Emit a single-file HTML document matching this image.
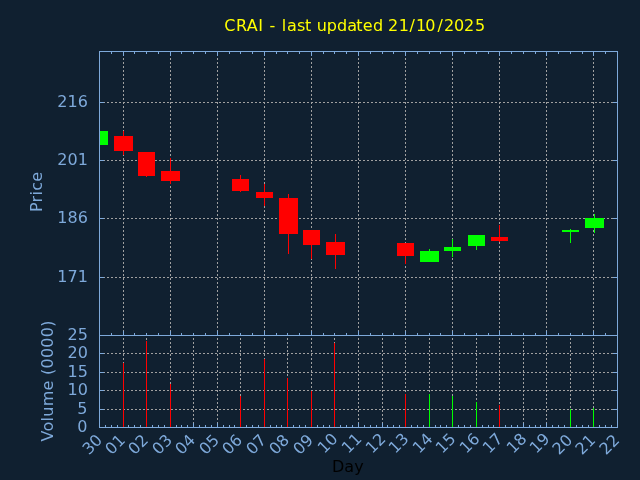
<!DOCTYPE html>
<html lang="en">
<head>
<meta charset="utf-8">
<title>CRAI - last updated 21/10/2025</title>
<style>
html,body{margin:0;padding:0;background:#102030;overflow:hidden}
svg{display:block;will-change:transform}
</style>
</head>
<body>
<svg width="640" height="480" viewBox="0 0 640 480">
<rect width="640" height="480" fill="#102030"/>
<g shape-rendering="crispEdges">
<line x1="123.5" y1="54" x2="123.5" y2="335" stroke="#a0a0a0" stroke-dasharray="2 2"/>
<line x1="170.5" y1="54" x2="170.5" y2="335" stroke="#a0a0a0" stroke-dasharray="2 2"/>
<line x1="217.5" y1="54" x2="217.5" y2="335" stroke="#a0a0a0" stroke-dasharray="2 2"/>
<line x1="264.5" y1="54" x2="264.5" y2="335" stroke="#a0a0a0" stroke-dasharray="2 2"/>
<line x1="311.5" y1="54" x2="311.5" y2="335" stroke="#a0a0a0" stroke-dasharray="2 2"/>
<line x1="358.5" y1="54" x2="358.5" y2="335" stroke="#a0a0a0" stroke-dasharray="2 2"/>
<line x1="405.5" y1="54" x2="405.5" y2="335" stroke="#a0a0a0" stroke-dasharray="2 2"/>
<line x1="452.5" y1="54" x2="452.5" y2="335" stroke="#a0a0a0" stroke-dasharray="2 2"/>
<line x1="499.5" y1="54" x2="499.5" y2="335" stroke="#a0a0a0" stroke-dasharray="2 2"/>
<line x1="546.5" y1="54" x2="546.5" y2="335" stroke="#a0a0a0" stroke-dasharray="2 2"/>
<line x1="593.5" y1="54" x2="593.5" y2="335" stroke="#a0a0a0" stroke-dasharray="2 2"/>
<line x1="103" y1="102.5" x2="617" y2="102.5" stroke="#a0a0a0" stroke-dasharray="2 2"/>
<line x1="103" y1="160.5" x2="617" y2="160.5" stroke="#a0a0a0" stroke-dasharray="2 2"/>
<line x1="103" y1="218.5" x2="617" y2="218.5" stroke="#a0a0a0" stroke-dasharray="2 2"/>
<line x1="103" y1="277.5" x2="617" y2="277.5" stroke="#a0a0a0" stroke-dasharray="2 2"/>
<line x1="123.5" y1="338" x2="123.5" y2="427" stroke="#a0a0a0" stroke-dasharray="2 2"/>
<line x1="146.5" y1="338" x2="146.5" y2="427" stroke="#a0a0a0" stroke-dasharray="2 2"/>
<line x1="170.5" y1="338" x2="170.5" y2="427" stroke="#a0a0a0" stroke-dasharray="2 2"/>
<line x1="193.5" y1="338" x2="193.5" y2="427" stroke="#a0a0a0" stroke-dasharray="2 2"/>
<line x1="217.5" y1="338" x2="217.5" y2="427" stroke="#a0a0a0" stroke-dasharray="2 2"/>
<line x1="240.5" y1="338" x2="240.5" y2="427" stroke="#a0a0a0" stroke-dasharray="2 2"/>
<line x1="264.5" y1="338" x2="264.5" y2="427" stroke="#a0a0a0" stroke-dasharray="2 2"/>
<line x1="287.5" y1="338" x2="287.5" y2="427" stroke="#a0a0a0" stroke-dasharray="2 2"/>
<line x1="311.5" y1="338" x2="311.5" y2="427" stroke="#a0a0a0" stroke-dasharray="2 2"/>
<line x1="334.5" y1="338" x2="334.5" y2="427" stroke="#a0a0a0" stroke-dasharray="2 2"/>
<line x1="358.5" y1="338" x2="358.5" y2="427" stroke="#a0a0a0" stroke-dasharray="2 2"/>
<line x1="382.5" y1="338" x2="382.5" y2="427" stroke="#a0a0a0" stroke-dasharray="2 2"/>
<line x1="405.5" y1="338" x2="405.5" y2="427" stroke="#a0a0a0" stroke-dasharray="2 2"/>
<line x1="429.5" y1="338" x2="429.5" y2="427" stroke="#a0a0a0" stroke-dasharray="2 2"/>
<line x1="452.5" y1="338" x2="452.5" y2="427" stroke="#a0a0a0" stroke-dasharray="2 2"/>
<line x1="476.5" y1="338" x2="476.5" y2="427" stroke="#a0a0a0" stroke-dasharray="2 2"/>
<line x1="499.5" y1="338" x2="499.5" y2="427" stroke="#a0a0a0" stroke-dasharray="2 2"/>
<line x1="523.5" y1="338" x2="523.5" y2="427" stroke="#a0a0a0" stroke-dasharray="2 2"/>
<line x1="546.5" y1="338" x2="546.5" y2="427" stroke="#a0a0a0" stroke-dasharray="2 2"/>
<line x1="570.5" y1="338" x2="570.5" y2="427" stroke="#a0a0a0" stroke-dasharray="2 2"/>
<line x1="593.5" y1="338" x2="593.5" y2="427" stroke="#a0a0a0" stroke-dasharray="2 2"/>
<line x1="103" y1="353.5" x2="617" y2="353.5" stroke="#a0a0a0" stroke-dasharray="2 2"/>
<line x1="103" y1="372.5" x2="617" y2="372.5" stroke="#a0a0a0" stroke-dasharray="2 2"/>
<line x1="103" y1="390.5" x2="617" y2="390.5" stroke="#a0a0a0" stroke-dasharray="2 2"/>
<line x1="103" y1="409.5" x2="617" y2="409.5" stroke="#a0a0a0" stroke-dasharray="2 2"/>
<rect x="100" y="131" width="8" height="14" fill="#00ff00"/>
<rect x="123" y="131" width="1" height="24" fill="#ff0000"/>
<rect x="114" y="136" width="19" height="15" fill="#ff0000"/>
<rect x="146" y="152" width="1" height="25" fill="#ff0000"/>
<rect x="138" y="152" width="17" height="24" fill="#ff0000"/>
<rect x="170" y="158" width="1" height="26" fill="#ff0000"/>
<rect x="161" y="171" width="19" height="10" fill="#ff0000"/>
<rect x="240" y="175" width="1" height="17" fill="#ff0000"/>
<rect x="232" y="179" width="17" height="12" fill="#ff0000"/>
<rect x="264" y="184" width="1" height="22" fill="#ff0000"/>
<rect x="256" y="192" width="17" height="6" fill="#ff0000"/>
<rect x="288" y="194" width="1" height="60" fill="#ff0000"/>
<rect x="279" y="198" width="19" height="36" fill="#ff0000"/>
<rect x="311" y="230" width="1" height="29" fill="#ff0000"/>
<rect x="303" y="230" width="17" height="15" fill="#ff0000"/>
<rect x="335" y="234" width="1" height="35" fill="#ff0000"/>
<rect x="326" y="242" width="19" height="13" fill="#ff0000"/>
<rect x="405" y="243" width="1" height="21" fill="#ff0000"/>
<rect x="397" y="243" width="17" height="13" fill="#ff0000"/>
<rect x="429" y="249" width="1" height="13" fill="#00ff00"/>
<rect x="420" y="251" width="19" height="11" fill="#00ff00"/>
<rect x="452" y="239" width="1" height="18" fill="#00ff00"/>
<rect x="444" y="247" width="17" height="4" fill="#00ff00"/>
<rect x="476" y="235" width="1" height="15" fill="#00ff00"/>
<rect x="468" y="235" width="17" height="11" fill="#00ff00"/>
<rect x="499" y="225" width="1" height="17" fill="#ff0000"/>
<rect x="491" y="237" width="17" height="4" fill="#ff0000"/>
<rect x="570" y="229" width="1" height="14" fill="#00ff00"/>
<rect x="562" y="230" width="17" height="2" fill="#00ff00"/>
<rect x="594" y="214" width="1" height="19" fill="#00ff00"/>
<rect x="585" y="218" width="19" height="10" fill="#00ff00"/>
<rect x="111" y="52" width="1" height="2" fill="#7ea9da"/>
<rect x="111" y="333" width="1" height="2" fill="#7ea9da"/>
<rect x="123" y="52" width="1" height="4" fill="#7ea9da"/>
<rect x="123" y="331" width="1" height="4" fill="#7ea9da"/>
<rect x="134" y="52" width="1" height="2" fill="#7ea9da"/>
<rect x="134" y="333" width="1" height="2" fill="#7ea9da"/>
<rect x="146" y="52" width="1" height="2" fill="#7ea9da"/>
<rect x="146" y="333" width="1" height="2" fill="#7ea9da"/>
<rect x="158" y="52" width="1" height="2" fill="#7ea9da"/>
<rect x="158" y="333" width="1" height="2" fill="#7ea9da"/>
<rect x="170" y="52" width="1" height="4" fill="#7ea9da"/>
<rect x="170" y="331" width="1" height="4" fill="#7ea9da"/>
<rect x="181" y="52" width="1" height="2" fill="#7ea9da"/>
<rect x="181" y="333" width="1" height="2" fill="#7ea9da"/>
<rect x="193" y="52" width="1" height="2" fill="#7ea9da"/>
<rect x="193" y="333" width="1" height="2" fill="#7ea9da"/>
<rect x="205" y="52" width="1" height="2" fill="#7ea9da"/>
<rect x="205" y="333" width="1" height="2" fill="#7ea9da"/>
<rect x="217" y="52" width="1" height="4" fill="#7ea9da"/>
<rect x="217" y="331" width="1" height="4" fill="#7ea9da"/>
<rect x="229" y="52" width="1" height="2" fill="#7ea9da"/>
<rect x="229" y="333" width="1" height="2" fill="#7ea9da"/>
<rect x="240" y="52" width="1" height="2" fill="#7ea9da"/>
<rect x="240" y="333" width="1" height="2" fill="#7ea9da"/>
<rect x="252" y="52" width="1" height="2" fill="#7ea9da"/>
<rect x="252" y="333" width="1" height="2" fill="#7ea9da"/>
<rect x="264" y="52" width="1" height="4" fill="#7ea9da"/>
<rect x="264" y="331" width="1" height="4" fill="#7ea9da"/>
<rect x="276" y="52" width="1" height="2" fill="#7ea9da"/>
<rect x="276" y="333" width="1" height="2" fill="#7ea9da"/>
<rect x="287" y="52" width="1" height="2" fill="#7ea9da"/>
<rect x="287" y="333" width="1" height="2" fill="#7ea9da"/>
<rect x="299" y="52" width="1" height="2" fill="#7ea9da"/>
<rect x="299" y="333" width="1" height="2" fill="#7ea9da"/>
<rect x="311" y="52" width="1" height="4" fill="#7ea9da"/>
<rect x="311" y="331" width="1" height="4" fill="#7ea9da"/>
<rect x="323" y="52" width="1" height="2" fill="#7ea9da"/>
<rect x="323" y="333" width="1" height="2" fill="#7ea9da"/>
<rect x="334" y="52" width="1" height="2" fill="#7ea9da"/>
<rect x="334" y="333" width="1" height="2" fill="#7ea9da"/>
<rect x="346" y="52" width="1" height="2" fill="#7ea9da"/>
<rect x="346" y="333" width="1" height="2" fill="#7ea9da"/>
<rect x="358" y="52" width="1" height="4" fill="#7ea9da"/>
<rect x="358" y="331" width="1" height="4" fill="#7ea9da"/>
<rect x="370" y="52" width="1" height="2" fill="#7ea9da"/>
<rect x="370" y="333" width="1" height="2" fill="#7ea9da"/>
<rect x="382" y="52" width="1" height="2" fill="#7ea9da"/>
<rect x="382" y="333" width="1" height="2" fill="#7ea9da"/>
<rect x="393" y="52" width="1" height="2" fill="#7ea9da"/>
<rect x="393" y="333" width="1" height="2" fill="#7ea9da"/>
<rect x="405" y="52" width="1" height="4" fill="#7ea9da"/>
<rect x="405" y="331" width="1" height="4" fill="#7ea9da"/>
<rect x="417" y="52" width="1" height="2" fill="#7ea9da"/>
<rect x="417" y="333" width="1" height="2" fill="#7ea9da"/>
<rect x="429" y="52" width="1" height="2" fill="#7ea9da"/>
<rect x="429" y="333" width="1" height="2" fill="#7ea9da"/>
<rect x="440" y="52" width="1" height="2" fill="#7ea9da"/>
<rect x="440" y="333" width="1" height="2" fill="#7ea9da"/>
<rect x="452" y="52" width="1" height="4" fill="#7ea9da"/>
<rect x="452" y="331" width="1" height="4" fill="#7ea9da"/>
<rect x="464" y="52" width="1" height="2" fill="#7ea9da"/>
<rect x="464" y="333" width="1" height="2" fill="#7ea9da"/>
<rect x="476" y="52" width="1" height="2" fill="#7ea9da"/>
<rect x="476" y="333" width="1" height="2" fill="#7ea9da"/>
<rect x="488" y="52" width="1" height="2" fill="#7ea9da"/>
<rect x="488" y="333" width="1" height="2" fill="#7ea9da"/>
<rect x="499" y="52" width="1" height="4" fill="#7ea9da"/>
<rect x="499" y="331" width="1" height="4" fill="#7ea9da"/>
<rect x="511" y="52" width="1" height="2" fill="#7ea9da"/>
<rect x="511" y="333" width="1" height="2" fill="#7ea9da"/>
<rect x="523" y="52" width="1" height="2" fill="#7ea9da"/>
<rect x="523" y="333" width="1" height="2" fill="#7ea9da"/>
<rect x="535" y="52" width="1" height="2" fill="#7ea9da"/>
<rect x="535" y="333" width="1" height="2" fill="#7ea9da"/>
<rect x="546" y="52" width="1" height="4" fill="#7ea9da"/>
<rect x="546" y="331" width="1" height="4" fill="#7ea9da"/>
<rect x="558" y="52" width="1" height="2" fill="#7ea9da"/>
<rect x="558" y="333" width="1" height="2" fill="#7ea9da"/>
<rect x="570" y="52" width="1" height="2" fill="#7ea9da"/>
<rect x="570" y="333" width="1" height="2" fill="#7ea9da"/>
<rect x="582" y="52" width="1" height="2" fill="#7ea9da"/>
<rect x="582" y="333" width="1" height="2" fill="#7ea9da"/>
<rect x="593" y="52" width="1" height="4" fill="#7ea9da"/>
<rect x="593" y="331" width="1" height="4" fill="#7ea9da"/>
<rect x="605" y="52" width="1" height="2" fill="#7ea9da"/>
<rect x="605" y="333" width="1" height="2" fill="#7ea9da"/>
<rect x="100" y="102" width="4" height="1" fill="#7ea9da"/>
<rect x="613" y="102" width="4" height="1" fill="#7ea9da"/>
<rect x="100" y="160" width="4" height="1" fill="#7ea9da"/>
<rect x="613" y="160" width="4" height="1" fill="#7ea9da"/>
<rect x="100" y="218" width="4" height="1" fill="#7ea9da"/>
<rect x="613" y="218" width="4" height="1" fill="#7ea9da"/>
<rect x="100" y="277" width="4" height="1" fill="#7ea9da"/>
<rect x="613" y="277" width="4" height="1" fill="#7ea9da"/>
<rect x="105" y="425" width="1" height="2" fill="#7ea9da"/>
<rect x="111" y="425" width="1" height="2" fill="#7ea9da"/>
<rect x="117" y="425" width="1" height="2" fill="#7ea9da"/>
<rect x="123" y="423" width="1" height="4" fill="#7ea9da"/>
<rect x="128" y="425" width="1" height="2" fill="#7ea9da"/>
<rect x="134" y="425" width="1" height="2" fill="#7ea9da"/>
<rect x="140" y="425" width="1" height="2" fill="#7ea9da"/>
<rect x="146" y="423" width="1" height="4" fill="#7ea9da"/>
<rect x="152" y="425" width="1" height="2" fill="#7ea9da"/>
<rect x="158" y="425" width="1" height="2" fill="#7ea9da"/>
<rect x="164" y="425" width="1" height="2" fill="#7ea9da"/>
<rect x="170" y="423" width="1" height="4" fill="#7ea9da"/>
<rect x="176" y="425" width="1" height="2" fill="#7ea9da"/>
<rect x="181" y="425" width="1" height="2" fill="#7ea9da"/>
<rect x="187" y="425" width="1" height="2" fill="#7ea9da"/>
<rect x="193" y="423" width="1" height="4" fill="#7ea9da"/>
<rect x="199" y="425" width="1" height="2" fill="#7ea9da"/>
<rect x="205" y="425" width="1" height="2" fill="#7ea9da"/>
<rect x="211" y="425" width="1" height="2" fill="#7ea9da"/>
<rect x="217" y="423" width="1" height="4" fill="#7ea9da"/>
<rect x="223" y="425" width="1" height="2" fill="#7ea9da"/>
<rect x="229" y="425" width="1" height="2" fill="#7ea9da"/>
<rect x="234" y="425" width="1" height="2" fill="#7ea9da"/>
<rect x="240" y="423" width="1" height="4" fill="#7ea9da"/>
<rect x="246" y="425" width="1" height="2" fill="#7ea9da"/>
<rect x="252" y="425" width="1" height="2" fill="#7ea9da"/>
<rect x="258" y="425" width="1" height="2" fill="#7ea9da"/>
<rect x="264" y="423" width="1" height="4" fill="#7ea9da"/>
<rect x="270" y="425" width="1" height="2" fill="#7ea9da"/>
<rect x="276" y="425" width="1" height="2" fill="#7ea9da"/>
<rect x="281" y="425" width="1" height="2" fill="#7ea9da"/>
<rect x="287" y="423" width="1" height="4" fill="#7ea9da"/>
<rect x="293" y="425" width="1" height="2" fill="#7ea9da"/>
<rect x="299" y="425" width="1" height="2" fill="#7ea9da"/>
<rect x="305" y="425" width="1" height="2" fill="#7ea9da"/>
<rect x="311" y="423" width="1" height="4" fill="#7ea9da"/>
<rect x="317" y="425" width="1" height="2" fill="#7ea9da"/>
<rect x="323" y="425" width="1" height="2" fill="#7ea9da"/>
<rect x="329" y="425" width="1" height="2" fill="#7ea9da"/>
<rect x="334" y="423" width="1" height="4" fill="#7ea9da"/>
<rect x="340" y="425" width="1" height="2" fill="#7ea9da"/>
<rect x="346" y="425" width="1" height="2" fill="#7ea9da"/>
<rect x="352" y="425" width="1" height="2" fill="#7ea9da"/>
<rect x="358" y="423" width="1" height="4" fill="#7ea9da"/>
<rect x="364" y="425" width="1" height="2" fill="#7ea9da"/>
<rect x="370" y="425" width="1" height="2" fill="#7ea9da"/>
<rect x="376" y="425" width="1" height="2" fill="#7ea9da"/>
<rect x="382" y="423" width="1" height="4" fill="#7ea9da"/>
<rect x="387" y="425" width="1" height="2" fill="#7ea9da"/>
<rect x="393" y="425" width="1" height="2" fill="#7ea9da"/>
<rect x="399" y="425" width="1" height="2" fill="#7ea9da"/>
<rect x="405" y="423" width="1" height="4" fill="#7ea9da"/>
<rect x="411" y="425" width="1" height="2" fill="#7ea9da"/>
<rect x="417" y="425" width="1" height="2" fill="#7ea9da"/>
<rect x="423" y="425" width="1" height="2" fill="#7ea9da"/>
<rect x="429" y="423" width="1" height="4" fill="#7ea9da"/>
<rect x="435" y="425" width="1" height="2" fill="#7ea9da"/>
<rect x="440" y="425" width="1" height="2" fill="#7ea9da"/>
<rect x="446" y="425" width="1" height="2" fill="#7ea9da"/>
<rect x="452" y="423" width="1" height="4" fill="#7ea9da"/>
<rect x="458" y="425" width="1" height="2" fill="#7ea9da"/>
<rect x="464" y="425" width="1" height="2" fill="#7ea9da"/>
<rect x="470" y="425" width="1" height="2" fill="#7ea9da"/>
<rect x="476" y="423" width="1" height="4" fill="#7ea9da"/>
<rect x="482" y="425" width="1" height="2" fill="#7ea9da"/>
<rect x="488" y="425" width="1" height="2" fill="#7ea9da"/>
<rect x="493" y="425" width="1" height="2" fill="#7ea9da"/>
<rect x="499" y="423" width="1" height="4" fill="#7ea9da"/>
<rect x="505" y="425" width="1" height="2" fill="#7ea9da"/>
<rect x="511" y="425" width="1" height="2" fill="#7ea9da"/>
<rect x="517" y="425" width="1" height="2" fill="#7ea9da"/>
<rect x="523" y="423" width="1" height="4" fill="#7ea9da"/>
<rect x="529" y="425" width="1" height="2" fill="#7ea9da"/>
<rect x="535" y="425" width="1" height="2" fill="#7ea9da"/>
<rect x="540" y="425" width="1" height="2" fill="#7ea9da"/>
<rect x="546" y="423" width="1" height="4" fill="#7ea9da"/>
<rect x="552" y="425" width="1" height="2" fill="#7ea9da"/>
<rect x="558" y="425" width="1" height="2" fill="#7ea9da"/>
<rect x="564" y="425" width="1" height="2" fill="#7ea9da"/>
<rect x="570" y="423" width="1" height="4" fill="#7ea9da"/>
<rect x="576" y="425" width="1" height="2" fill="#7ea9da"/>
<rect x="582" y="425" width="1" height="2" fill="#7ea9da"/>
<rect x="588" y="425" width="1" height="2" fill="#7ea9da"/>
<rect x="593" y="423" width="1" height="4" fill="#7ea9da"/>
<rect x="599" y="425" width="1" height="2" fill="#7ea9da"/>
<rect x="605" y="425" width="1" height="2" fill="#7ea9da"/>
<rect x="611" y="425" width="1" height="2" fill="#7ea9da"/>
<rect x="100" y="353" width="4" height="1" fill="#7ea9da"/>
<rect x="613" y="353" width="4" height="1" fill="#7ea9da"/>
<rect x="100" y="372" width="4" height="1" fill="#7ea9da"/>
<rect x="613" y="372" width="4" height="1" fill="#7ea9da"/>
<rect x="100" y="390" width="4" height="1" fill="#7ea9da"/>
<rect x="613" y="390" width="4" height="1" fill="#7ea9da"/>
<rect x="100" y="409" width="4" height="1" fill="#7ea9da"/>
<rect x="613" y="409" width="4" height="1" fill="#7ea9da"/>
<rect x="123" y="363" width="1" height="64" fill="#ff0000"/>
<rect x="146" y="341" width="1" height="86" fill="#ff0000"/>
<rect x="170" y="384" width="1" height="43" fill="#ff0000"/>
<rect x="240" y="396" width="1" height="31" fill="#ff0000"/>
<rect x="264" y="359" width="1" height="68" fill="#ff0000"/>
<rect x="287" y="378" width="1" height="49" fill="#ff0000"/>
<rect x="311" y="391" width="1" height="36" fill="#ff0000"/>
<rect x="334" y="343" width="1" height="84" fill="#ff0000"/>
<rect x="405" y="394" width="1" height="33" fill="#ff0000"/>
<rect x="429" y="394" width="1" height="33" fill="#00ff00"/>
<rect x="452" y="396" width="1" height="31" fill="#00ff00"/>
<rect x="476" y="402" width="1" height="25" fill="#00ff00"/>
<rect x="499" y="405" width="1" height="22" fill="#ff0000"/>
<rect x="570" y="409" width="1" height="18" fill="#00ff00"/>
<rect x="593" y="408" width="1" height="19" fill="#00ff00"/>
<rect x="99" y="51" width="519" height="1" fill="#7ea9da"/>
<rect x="99" y="335" width="519" height="1" fill="#7ea9da"/>
<rect x="99" y="427" width="519" height="1" fill="#7ea9da"/>
<rect x="99" y="51" width="1" height="377" fill="#7ea9da"/>
<rect x="617" y="51" width="1" height="377" fill="#7ea9da"/>
</g>
<g font-family="'DejaVu Sans', 'Liberation Sans', sans-serif" font-size="16">
<text x="224.35 235.94 246.63 258.19" y="30.55" fill="#ffff00">CRAI</text>
<text x="269.51" y="30.55" fill="#ffff00">-</text>
<text x="281.67 287.04 296.94 304.94" y="30.55" fill="#ffff00">last</text>
<text x="316.78 326.63 337.11 347.29 356.29 362.71 373.11" y="30.55" fill="#ffff00">updated</text>
<text x="388.12 398.77 409.45 416.07 425.36 437.55 444.12 454.11 464.12 474.99" y="30.55" fill="#ffff00">21/10/2025</text>
<text x="87.9" y="106.6" text-anchor="end" fill="#7ea9da">216</text>
<text x="87.9" y="164.6" text-anchor="end" fill="#7ea9da">201</text>
<text x="87.9" y="222.6" text-anchor="end" fill="#7ea9da">186</text>
<text x="87.9" y="281.6" text-anchor="end" fill="#7ea9da">171</text>
<text x="87.9" y="339.6" text-anchor="end" fill="#7ea9da">25</text>
<text x="87.9" y="357.6" text-anchor="end" fill="#7ea9da">20</text>
<text x="87.9" y="376.6" text-anchor="end" fill="#7ea9da">15</text>
<text x="87.9" y="394.6" text-anchor="end" fill="#7ea9da">10</text>
<text x="87.4" y="413.6" text-anchor="end" fill="#7ea9da">5</text>
<text x="87.4" y="431.6" text-anchor="end" fill="#7ea9da">0</text>
<text transform="translate(99.2,437.0) rotate(-45)" x="0" y="5.8" text-anchor="end" fill="#7ea9da">30</text>
<text transform="translate(122.1,437.0) rotate(-45)" x="0" y="5.8" text-anchor="end" fill="#7ea9da">01</text>
<text transform="translate(145.1,437.0) rotate(-45)" x="0" y="5.8" text-anchor="end" fill="#7ea9da">02</text>
<text transform="translate(169.1,437.0) rotate(-45)" x="0" y="5.8" text-anchor="end" fill="#7ea9da">03</text>
<text transform="translate(192.1,437.0) rotate(-45)" x="0" y="5.8" text-anchor="end" fill="#7ea9da">04</text>
<text transform="translate(216.1,437.0) rotate(-45)" x="0" y="5.8" text-anchor="end" fill="#7ea9da">05</text>
<text transform="translate(239.1,437.0) rotate(-45)" x="0" y="5.8" text-anchor="end" fill="#7ea9da">06</text>
<text transform="translate(263.1,437.0) rotate(-45)" x="0" y="5.8" text-anchor="end" fill="#7ea9da">07</text>
<text transform="translate(286.1,437.0) rotate(-45)" x="0" y="5.8" text-anchor="end" fill="#7ea9da">08</text>
<text transform="translate(310.1,437.0) rotate(-45)" x="0" y="5.8" text-anchor="end" fill="#7ea9da">09</text>
<text transform="translate(334.5,435.8) rotate(-45)" x="0" y="5.8" text-anchor="end" fill="#7ea9da">10</text>
<text transform="translate(358.5,435.8) rotate(-45)" x="0" y="5.8" text-anchor="end" fill="#7ea9da">11</text>
<text transform="translate(382.5,435.8) rotate(-45)" x="0" y="5.8" text-anchor="end" fill="#7ea9da">12</text>
<text transform="translate(405.5,435.8) rotate(-45)" x="0" y="5.8" text-anchor="end" fill="#7ea9da">13</text>
<text transform="translate(429.5,435.8) rotate(-45)" x="0" y="5.8" text-anchor="end" fill="#7ea9da">14</text>
<text transform="translate(452.5,435.8) rotate(-45)" x="0" y="5.8" text-anchor="end" fill="#7ea9da">15</text>
<text transform="translate(476.5,435.8) rotate(-45)" x="0" y="5.8" text-anchor="end" fill="#7ea9da">16</text>
<text transform="translate(499.5,435.8) rotate(-45)" x="0" y="5.8" text-anchor="end" fill="#7ea9da">17</text>
<text transform="translate(523.5,435.8) rotate(-45)" x="0" y="5.8" text-anchor="end" fill="#7ea9da">18</text>
<text transform="translate(546.5,435.8) rotate(-45)" x="0" y="5.8" text-anchor="end" fill="#7ea9da">19</text>
<text transform="translate(569.3,437.0) rotate(-45)" x="0" y="5.8" text-anchor="end" fill="#7ea9da">20</text>
<text transform="translate(592.3,437.0) rotate(-45)" x="0" y="5.8" text-anchor="end" fill="#7ea9da">21</text>
<text transform="translate(616.3,437.0) rotate(-45)" x="0" y="5.8" text-anchor="end" fill="#7ea9da">22</text>
<text transform="translate(42,192) rotate(-90)" text-anchor="middle" textLength="40.2" lengthAdjust="spacing" fill="#7ea9da">Price</text>
<text transform="translate(53,381) rotate(-90)" text-anchor="middle" textLength="121" lengthAdjust="spacing" fill="#7ea9da">Volume (0000)</text>
<text x="347.8" y="472.2" text-anchor="middle" fill="#000000">Day</text>
</g>
</svg>
</body>
</html>
